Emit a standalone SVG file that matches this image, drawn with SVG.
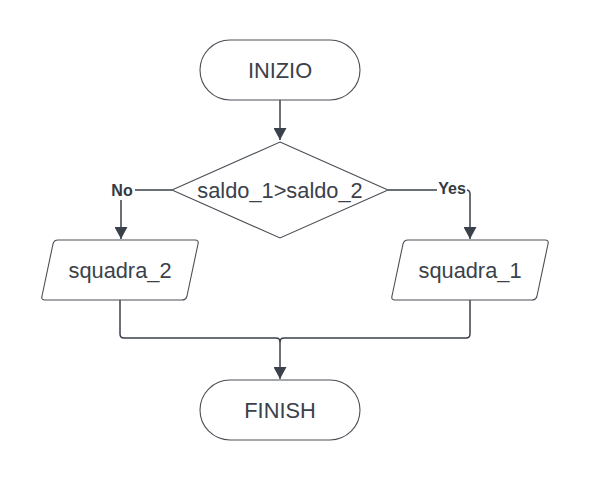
<svg xmlns="http://www.w3.org/2000/svg" width="590" height="480" viewBox="0 0 590 480">
<defs>
<style>
.shape{fill:#ffffff;stroke:#4a4f55;stroke-width:1.1}
.conn{fill:none;stroke:#3a414a;stroke-width:1.5}
.t{font-family:"Liberation Sans",Arial,sans-serif;font-size:21.8px;fill:#3a414a;text-anchor:middle}
.lbl{font-family:"Liberation Sans",Arial,sans-serif;font-size:16px;font-weight:bold;fill:#333a42;text-anchor:middle}
</style>
<marker id="arr" viewBox="0 0 12 13" refX="12" refY="6.5" markerWidth="12" markerHeight="13" markerUnits="userSpaceOnUse" orient="auto">
<path d="M0,0 L12,6.5 L0,13 Z" fill="#3a414a"/>
</marker>
</defs>
<rect width="590" height="480" fill="#ffffff"/>
<g id="connectors">
<path class="conn" d="M280,100 V140" marker-end="url(#arr)"/>
<path class="conn" d="M172,190 H121 V239" marker-end="url(#arr)"/>
<path class="conn" d="M388,190 H466 Q470,190 470,194 V239" marker-end="url(#arr)"/>
<path class="conn" d="M120,300 V334 Q120,338 124,338 H276 Q280,338 280,342 V379" marker-end="url(#arr)"/>
<path class="conn" d="M470,300 V334 Q470,338 466,338 H284 Q280,338 280,342"/>
<rect x="106" y="180" width="29" height="20" fill="#ffffff"/>
<text class="lbl" x="122" y="195.5">No</text>
<rect x="437" y="180" width="30" height="18" fill="#ffffff"/>
<text class="lbl" x="452" y="193.5">Yes</text>
</g>
<g id="start">
<rect class="shape" x="200" y="40" width="160" height="60" rx="30"/>
<text class="t" x="280" y="77.8">INIZIO</text>
</g>
<g id="decision">
<path class="shape" d="M280,142 L388,190 L280,238 L172,190 Z"/>
<text class="t" x="280" y="197.8">saldo_1&gt;saldo_2</text>
</g>
<g id="squadra2">
<path class="shape" d="M58,240 H195 Q199,240 198,244 L187,296 Q186,300 182,300 H45 Q41,300 42,296 L53,244 Q54,240 58,240 Z"/>
<text class="t" x="120" y="277.8">squadra_2</text>
</g>
<g id="squadra1">
<path class="shape" d="M408,240 H545 Q549,240 548,244 L537,296 Q536,300 532,300 H395 Q391,300 392,296 L403,244 Q404,240 408,240 Z"/>
<text class="t" x="470" y="277.8">squadra_1</text>
</g>
<g id="end">
<rect class="shape" x="200" y="380" width="160" height="60" rx="30"/>
<text class="t" x="280" y="417.8">FINISH</text>
</g>
</svg>
